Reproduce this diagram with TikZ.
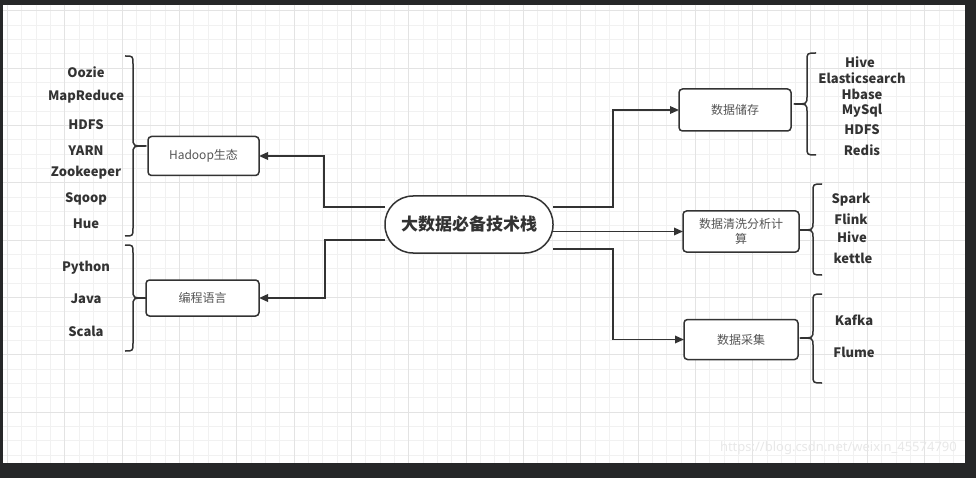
\documentclass[tikz,border=0pt]{standalone}
\usepackage{fontspec}
\usetikzlibrary{arrows.meta}
\newfontfamily\lat{Noto Sans}
\newfontfamily\cjk{Noto Sans CJK SC}
\definecolor{frame}{HTML}{262728}
\definecolor{ink}{HTML}{333333}
\definecolor{boxtext}{HTML}{555555}
\definecolor{gminor}{HTML}{F1F1F1}
\definecolor{gmajor}{HTML}{E3E3E3}
\pgfdeclarelayer{grid}
\pgfdeclarelayer{links}
\pgfsetlayers{grid,links,main}
\tikzset{
  x=1pt, y=-1pt,
  boxnode/.style={draw=ink, line width=1.5pt, rounded corners=3.5pt, fill=white,
    text=boxtext, font=\cjk\fontsize{12}{15}\selectfont, align=center,
    inner sep=0pt, outer sep=0pt},
  hubnode/.style={draw=ink, line width=1.5pt, rounded corners=28pt, fill=white,
    text=ink, font=\cjk\bfseries\fontsize{17}{20}\selectfont,
    minimum width=168pt, minimum height=57pt, inner sep=0pt, outer sep=0pt},
  lab/.style={text=ink, font=\cjk\bfseries\fontsize{13}{15}\selectfont, inner sep=0pt},
  link/.style={draw=ink, line width=1.7pt},
  arr/.style={link, -{Triangle[length=9pt,width=7.5pt]}},
  bracestyle/.style={draw=ink, line width=1.5pt, line join=round},
  gridminor/.style={draw=gminor, line width=0.8pt},
  gridmajor/.style={draw=gmajor, line width=0.9pt},
}
\begin{document}
\begin{tikzpicture}
\useasboundingbox (0,0) rectangle (976,478);
\begin{pgfonlayer}{grid}
\fill[frame] (0,0) rectangle (976,478);
\fill[white] (3,5) rectangle (965,463);
\begin{scope}
\clip (3,5) rectangle (965,463);
\foreach \i in {0,...,67} \draw[gridminor] ({7.33+14.333*\i},5) -- ++(0,458);
\foreach \j in {0,...,32} \draw[gridminor] (3,{10.67+14.333*\j}) -- ++(962,0);
\foreach \i in {0,...,16} \draw[gridmajor] ({7.33+57.333*\i},5) -- ++(0,458);
\foreach \j in {0,...,8} \draw[gridmajor] (3,{10.67+57.333*\j}) -- ++(962,0);
\end{scope}
\node[anchor=east, text=black!9, font=\lat\fontsize{13}{15}\selectfont, inner sep=0pt]
  (wm) at (957,448) {https://blog.csdn.net/weixin\_45574790};
\end{pgfonlayer}

% nodes
\node[hubnode] (c) at (469,224.5) {大数据必备技术栈};
\node[boxnode, minimum width=111pt, minimum height=39pt] (h) at (203.5,156) {Hadoop生态};
\node[boxnode, minimum width=113pt, minimum height=36pt] (p) at (202.5,298) {编程语言};
\node[boxnode, minimum width=112pt, minimum height=42pt] (s) at (735,110) {数据储存};
\node[boxnode, minimum width=116pt, minimum height=41pt] (q) at (741,231.5) {数据清洗分析计\\算};
\node[boxnode, minimum width=114pt, minimum height=40pt] (k) at (741,339.5) {数据采集};

% connectors
\begin{pgfonlayer}{links}
\draw[arr] ([yshift=17.5pt]c.west) -- ++(-61,0) |- (h.east);
\draw[arr] ([yshift=-15.5pt]c.west) -- ++(-60,0) |- (p.east);
\draw[arr] ([yshift=17.5pt]c.east) -- ++(60,0) |- (s.west);
\draw[arr] (c.east |- q.west) -- (q.west);
\draw[arr] ([yshift=-24.8pt]c.east) -- ++(60,0) |- (k.west);
\end{pgfonlayer}

% braces: right-facing (})
\draw[bracestyle] (125,56) .. controls (133,56) .. (133,64) -- (133,138)
  .. controls (133,146) .. (146,146) .. controls (133,146) .. (133,154)
  -- (133,228) .. controls (133,236) .. (125,236);
\draw[bracestyle] (125,245) .. controls (133,245) .. (133,253) -- (133,290)
  .. controls (133,298) .. (146,298) .. controls (133,298) .. (133,306)
  -- (133,343) .. controls (133,351) .. (125,351);
% braces: left-facing ({)
\draw[bracestyle] (816,53) .. controls (807,53) .. (807,61) -- (807,96)
  .. controls (807,104) .. (794,104) .. controls (807,104) .. (807,112)
  -- (807,147) .. controls (807,155) .. (816,155);
\draw[bracestyle] (822,184) .. controls (813,184) .. (813,192) -- (813,222)
  .. controls (813,230) .. (800,230) .. controls (813,230) .. (813,238)
  -- (813,267) .. controls (813,275) .. (822,275);
\draw[bracestyle] (822,294) .. controls (813,294) .. (813,302) -- (813,330)
  .. controls (813,338) .. (800,338) .. controls (813,338) .. (813,346)
  -- (813,375) .. controls (813,383) .. (822,383);

% labels left
\node[lab] (l1) at (86,72) {Oozie};
\node[lab] (l2) at (86,97) {MapReduce};
\node[lab] (l3) at (86,125) {HDFS};
\node[lab] (l4) at (86,151) {YARN};
\node[lab] (l5) at (86,173) {Zookeeper};
\node[lab] (l6) at (86,199) {Sqoop};
\node[lab] (l7) at (86,224) {Hue};
\node[lab] (l8) at (86,268) {Python};
\node[lab] (l9) at (86,299) {Java};
\node[lab] (l10) at (86,331) {Scala};
% labels right
\node[lab] (r1) at (860,62) {Hive};
\node[lab] (r2) at (862,78) {Elasticsearch};
\node[lab] (r3) at (862,94) {Hbase};
\node[lab] (r4) at (862,111) {MySql};
\node[lab] (r5) at (862,130) {HDFS};
\node[lab] (r6) at (862,150) {Redis};
\node[lab] (r7) at (851,200) {Spark};
\node[lab] (r8) at (851,219) {Flink};
\node[lab] (r9) at (852,237) {Hive};
\node[lab] (r10) at (853,258) {kettle};
\node[lab] (r11) at (854,320) {Kafka};
\node[lab] (r12) at (854,352) {Flume};
\end{tikzpicture}
\end{document}
